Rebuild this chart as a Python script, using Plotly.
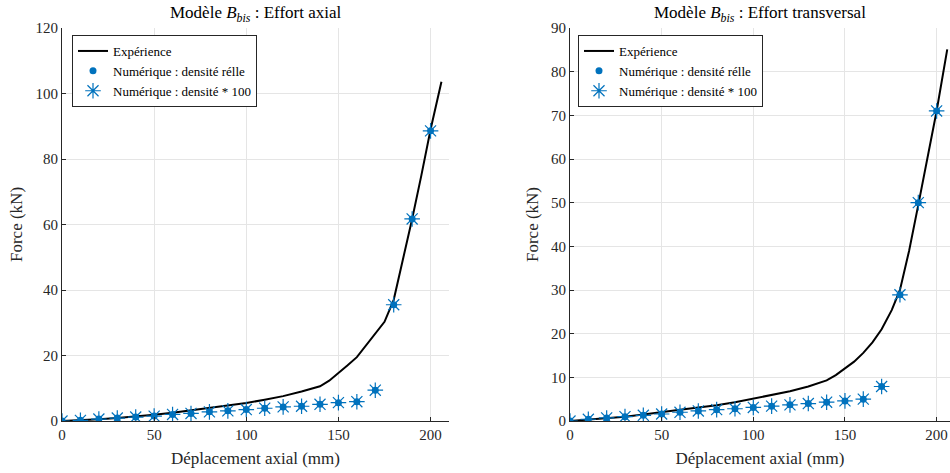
import plotly.graph_objects as go

# ---- data ----
num_x = [0, 10, 20, 30, 40, 50, 60, 70, 80, 90, 100, 110, 120, 130, 140, 150, 160, 170, 180, 190, 200]

# Left: effort axial
exp_ax_x = [0, 10, 20, 30, 40, 50, 60, 70, 80, 90, 100, 110, 120, 130, 140, 145, 150, 155, 160,
            165, 170, 175, 180, 185, 190, 195, 200, 205.9]
exp_ax_y = [0, 0.2, 0.5, 0.9, 1.3, 1.9, 2.5, 3.2, 3.9, 4.6, 5.5, 6.5, 7.6, 9.0, 10.6, 12.3, 14.6,
            17.0, 19.5, 23.0, 26.5, 30.3, 37.0, 49.0, 61.7, 75.0, 89.0, 103.6]
num_ax_reel = [0, 0.2, 0.6, 0.9, 1.2, 1.5, 2.0, 2.3, 2.8, 3.1, 3.5, 3.9, 4.3, 4.5, 5.1, 5.6, 5.9,
               9.4, 35.5, 61.7, 88.6]
num_ax_100 = [0, 0.2, 0.6, 0.9, 1.2, 1.5, 2.0, 2.3, 2.8, 3.1, 3.5, 3.9, 4.3, 4.5, 5.1, 5.6, 5.9,
              9.4, 35.5, 61.7, 88.6]

# Right: effort transversal
exp_tr_x = [0, 10, 20, 30, 40, 50, 60, 70, 80, 90, 100, 110, 120, 130, 140, 145, 150, 155, 160,
            165, 170, 175.5, 180, 185, 190, 195, 200, 205.8]
exp_tr_y = [0, 0.3, 0.6, 1.0, 1.5, 2.1, 2.6, 3.1, 3.6, 4.3, 5.1, 5.9, 6.8, 7.9, 9.3, 10.5, 12.0,
            13.6, 15.6, 18.0, 21.0, 25.4, 30.0, 39.0, 49.5, 60.0, 71.0, 85.1]
num_tr_reel = [0, 0.4, 0.7, 1.0, 1.3, 1.6, 2.0, 2.3, 2.6, 2.8, 3.1, 3.4, 3.7, 4.0, 4.3, 4.6, 5.0,
               7.9, 28.9, 50.0, 71.0]
num_tr_100 = [0, 0.4, 0.7, 1.0, 1.3, 1.6, 2.0, 2.3, 2.6, 2.8, 3.1, 3.4, 3.7, 4.0, 4.3, 4.6, 5.0,
              7.9, 28.9, 50.0, 71.0]

names = ["Expérience", "Numérique : densité rélle", "Numérique : densité * 100"]
titles = ["Modèle <i>B</i><sub><i>bis</i></sub> : Effort axial",
          "Modèle <i>B</i><sub><i>bis</i></sub> : Effort transversal"]

BLUE = "#0072BD"
FONT = "Liberation Serif"
AX = "#262626"

fig = go.Figure()

for i, (ex, ey, nr, n100) in enumerate([(exp_ax_x, exp_ax_y, num_ax_reel, num_ax_100),
                                        (exp_tr_x, exp_tr_y, num_tr_reel, num_tr_100)]):
    xa = "x" if i == 0 else "x2"
    ya = "y" if i == 0 else "y2"
    lg = "legend" if i == 0 else "legend2"
    fig.add_trace(go.Scatter(x=ex, y=ey, mode="lines", name=names[0],
                             line=dict(color="black", width=2), xaxis=xa, yaxis=ya, legend=lg))
    fig.add_trace(go.Scatter(x=num_x, y=nr, mode="markers", name=names[1],
                             marker=dict(color=BLUE, size=7, symbol="circle"),
                             xaxis=xa, yaxis=ya, legend=lg))
    fig.add_trace(go.Scatter(x=num_x, y=n100, mode="markers", name=names[2],
                             marker=dict(color=BLUE, size=13, symbol="asterisk-open",
                                         line=dict(color=BLUE, width=1.2)),
                             xaxis=xa, yaxis=ya, legend=lg))

W, H = 950, 473
ml, mr, mt, mb = 62, 0, 28, 52
pw = W - ml - mr
ph = H - mt - mb
d1 = [0, (449 - ml) / pw]
d2 = [(570 - ml) / pw, 1]

common_x = dict(showgrid=True, gridcolor="#e5e5e5", gridwidth=1, zeroline=False,
                showline=True, linecolor=AX, linewidth=1, ticks="inside", ticklen=4,
                tickcolor=AX, tickfont=dict(family=FONT, size=15, color=AX),
                tickvals=[0, 50, 100, 150, 200], mirror=False, automargin=False,
                title=dict(text="Déplacement axial (mm)", font=dict(family=FONT, size=17, color=AX),
                           standoff=10))
common_y = dict(showgrid=True, gridcolor="#e5e5e5", gridwidth=1, zeroline=False,
                showline=True, linecolor=AX, linewidth=1, ticks="inside", ticklen=4,
                tickcolor=AX, tickfont=dict(family=FONT, size=15, color=AX), mirror=False,
                automargin=False,
                title=dict(text="Force (kN)", font=dict(family=FONT, size=17, color=AX), standoff=8))

fig.update_layout(
    width=W, height=H, margin=dict(l=ml, r=mr, t=mt, b=mb, autoexpand=False),
    plot_bgcolor="white", paper_bgcolor="white",
    xaxis=dict(domain=d1, range=[0, 210], anchor="y", **common_x),
    yaxis=dict(domain=[0, 1], range=[0, 120], dtick=20, anchor="x", **common_y),
    xaxis2=dict(domain=d2, range=[0, 207.3], anchor="y2", **common_x),
    yaxis2=dict(domain=[0, 1], range=[0, 90], dtick=10, anchor="x2", **common_y),
    legend=dict(x=(72 - ml) / pw, y=(ph - 7) / ph, xanchor="left", yanchor="top",
                bgcolor="white", bordercolor=AX, borderwidth=1,
                font=dict(family=FONT, size=13, color="black"), tracegroupgap=0, itemwidth=30),
    legend2=dict(x=(578 - ml) / pw, y=(ph - 7) / ph, xanchor="left", yanchor="top",
                 bgcolor="white", bordercolor=AX, borderwidth=1,
                 font=dict(family=FONT, size=13, color="black"), tracegroupgap=0, itemwidth=30),
    showlegend=True,
)

for i, dom in enumerate([d1, d2]):
    fig.add_annotation(text=titles[i], xref="paper", yref="paper",
                       x=(dom[0] + dom[1]) / 2, y=1, yshift=14, xanchor="center", yanchor="middle",
                       showarrow=False, font=dict(family=FONT, size=17, color="black"))

fig.write_html("out.html", config={"displayModeBar": False},
               post_script="document.body.style.margin='0';")
